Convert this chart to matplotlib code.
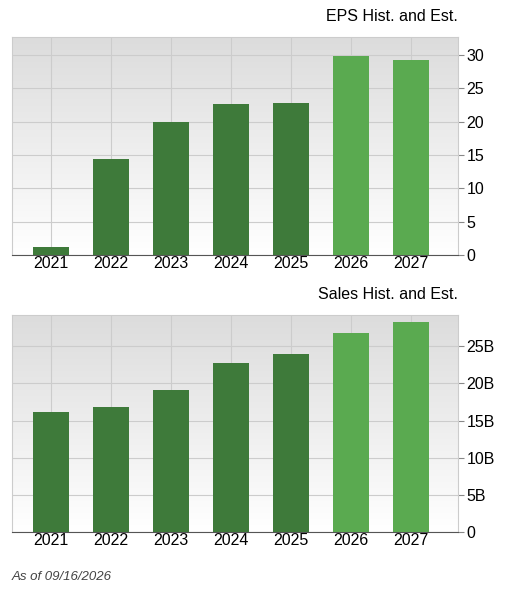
import matplotlib
matplotlib.use("Agg")
import matplotlib.pyplot as plt
import numpy as np
from matplotlib.colors import LinearSegmentedColormap

years = ["2021", "2022", "2023", "2024", "2025", "2026", "2027"]
eps = [1.2, 14.4, 20.0, 22.6, 22.8, 29.8, 29.3]
sales = [16.1, 16.8, 19.1, 22.8, 23.9, 26.8, 28.2]
estimate = [False, False, False, False, False, True, True]
eps_ticks = [0, 5, 10, 15, 20, 25, 30]
eps_labels = ["0", "5", "10", "15", "20", "25", "30"]
sales_ticks = [0, 5, 10, 15, 20, 25]
sales_labels = ["0", "5B", "10B", "15B", "20B", "25B"]

W, H = 520, 603
fig = plt.figure(figsize=(W/100, H/100), dpi=100)
plt.rcParams['font.family'] = ['Liberation Sans', 'DejaVu Sans']
XL, XR = -0.65, 6.78

def panel(top, bottom, vals, ymax, ticks, labels, title):
    ax = fig.add_axes([12/W, 1-bottom/H, (458-12)/W, (bottom-top)/H])
    grad = np.linspace(0, 1, 256).reshape(-1, 1)
    cmap = LinearSegmentedColormap.from_list("g", ["#ffffff", "#dcdcdc"])
    ax.imshow(grad, aspect='auto', cmap=cmap, extent=[XL, XR, 0, ymax], origin='lower', zorder=0)
    colors = ["#5aaa50" if e else "#3e7a3a" for e in estimate]
    x = np.arange(len(years))
    ax.bar(x, vals, width=0.6, color=colors, zorder=3)
    ax.set_xlim(XL, XR)
    ax.set_ylim(0, ymax)
    ax.set_xticks(x)
    ax.set_xticklabels(years, fontsize=11.5)
    ax.set_yticks(ticks)
    ax.set_yticklabels(labels, fontsize=11.5)
    ax.yaxis.tick_right()
    ax.tick_params(length=4, color="#888888", pad=2)
    ax.tick_params(axis='x', length=0, pad=1)
    ax.grid(True, color="#cccccc", linewidth=0.8, zorder=1)
    for s in ax.spines.values():
        s.set_color("#cccccc")
    ax.spines['bottom'].set_color("#555555")
    ax.text(1.0, 1.06, title, transform=ax.transAxes, ha='right', va='bottom', fontsize=11.5)
    return ax

panel(37, 255, eps, 32.7, eps_ticks, eps_labels, "EPS Hist. and Est.")
panel(315, 532, sales, 29.2, sales_ticks, sales_labels, "Sales Hist. and Est.")
fig.text(12/W, 1-577/H, "As of 09/16/2026", fontsize=9.5, style='italic', color="#444444", va='center')
fig.savefig("out.png", dpi=100)
